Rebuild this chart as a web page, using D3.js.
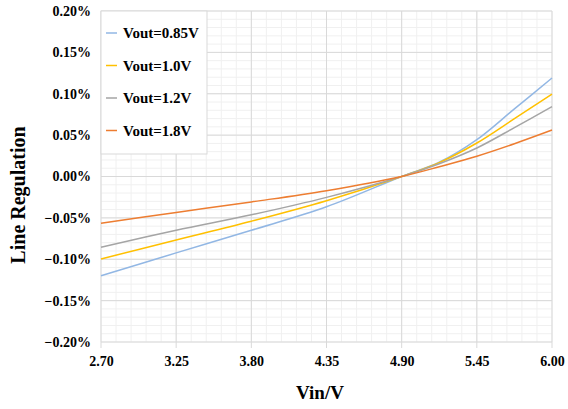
<!DOCTYPE html>
<html>
<head>
<meta charset="utf-8">
<script src="https://cdn.jsdelivr.net/npm/d3@7"></script>
<style>
  body { margin: 0; background: #fff; }
  text { font-family: "Liberation Serif", "Times New Roman", serif; font-weight: bold; fill: #000; }
</style>
</head>
<body>
<script>
//#### DATA ####
// Vin in volts, line regulation in percent
var vin = [2.70, 3.25, 3.80, 4.35, 4.90, 5.175, 5.45, 5.725, 6.00];
var reg085 = [-0.120, -0.0923, -0.065, -0.0366, 0, 0.0172, 0.0445, 0.0817, 0.119];
var reg10  = [-0.0996, -0.0768, -0.0541, -0.0293, 0, 0.0168, 0.0405, 0.0699, 0.0996];
var reg12  = [-0.0854, -0.065, -0.0463, -0.0252, 0, 0.0155, 0.0345, 0.0591, 0.0845];
var reg18  = [-0.0565, -0.0435, -0.0307, -0.0171, 0, 0.0118, 0.0245, 0.0396, 0.0561];

var seriesNames = ["Vout=0.85V", "Vout=1.0V", "Vout=1.2V", "Vout=1.8V"];
var seriesColors = ["#92b7e4", "#ffc000", "#a5a5a5", "#ed7d31"];
var seriesValues = [reg085, reg10, reg12, reg18];

var xTicks = [2.70, 3.25, 3.80, 4.35, 4.90, 5.45, 6.00];
var yTicks = [-0.20, -0.15, -0.10, -0.05, 0.00, 0.05, 0.10, 0.15, 0.20];

// #### layout ####
var margin = {top: 11, right: 16, bottom: 67, left: 101};
var width_outer = 568;
var height_outer = 409;
var width = width_outer - margin.left - margin.right;
var height = height_outer - margin.top - margin.bottom;

var svg = d3.select("body").append("svg")
  .attr("width", width_outer)
  .attr("height", height_outer);

var g = svg.append("g")
  .attr("transform", "translate(" + margin.left + "," + margin.top + ")");

var x = d3.scaleLinear().domain([2.70, 6.00]).range([0, width]);
var y = d3.scaleLinear().domain([-0.20, 0.20]).range([height, 0]);

// minor grid
var xMinor = d3.range(0, 31).map(function(i) { return 2.70 + i * 0.11; });
var yMinor = d3.range(0, 41).map(function(i) { return -0.20 + i * 0.01; });

g.selectAll(".xminor").data(xMinor).enter().append("line")
  .attr("x1", function(d) { return x(d); }).attr("x2", function(d) { return x(d); })
  .attr("y1", 0).attr("y2", height)
  .style("stroke", "#f0f0f0");

g.selectAll(".yminor").data(yMinor).enter().append("line")
  .attr("x1", 0).attr("x2", width)
  .attr("y1", function(d) { return y(d); }).attr("y2", function(d) { return y(d); })
  .style("stroke", "#f0f0f0");

// major grid
g.selectAll(".xmajor").data(xTicks).enter().append("line")
  .attr("x1", function(d) { return x(d); }).attr("x2", function(d) { return x(d); })
  .attr("y1", 0).attr("y2", height + 6)
  .style("stroke", "#d9d9d9");

g.selectAll(".ymajor").data(yTicks).enter().append("line")
  .attr("x1", 0).attr("x2", width)
  .attr("y1", function(d) { return y(d); }).attr("y2", function(d) { return y(d); })
  .style("stroke", "#d9d9d9");

// axes (labels only, lines come from the grid)
var xAxis = d3.axisBottom(x).tickValues(xTicks).tickSize(0).tickPadding(14)
  .tickFormat(d3.format(".2f"));
var yAxis = d3.axisLeft(y).tickValues(yTicks).tickSize(0).tickPadding(10)
  .tickFormat(function(d) { return d3.format(".2f")(d) + "%"; });

var gx = g.append("g")
  .attr("transform", "translate(0," + height + ")")
  .call(xAxis);
gx.select(".domain").remove();
gx.selectAll("text").style("font-size", "14px").style("font-family", null);

var gy = g.append("g").call(yAxis);
gy.select(".domain").remove();
gy.selectAll("text").style("font-size", "14px").style("font-family", null);

// lines
var line = d3.line()
  .x(function(d) { return x(d.x); })
  .y(function(d) { return y(d.y); })
  .curve(d3.curveCatmullRom.alpha(0.5));

seriesValues.forEach(function(vals, i) {
  var pts = vin.map(function(v, j) { return {x: v, y: vals[j]}; });
  g.append("path")
    .datum(pts)
    .attr("d", line)
    .style("fill", "none")
    .style("stroke", seriesColors[i])
    .style("stroke-width", 1.5);
});

// legend
var legend = g.append("g");
legend.append("rect")
  .attr("x", 0).attr("y", 0)
  .attr("width", 106).attr("height", 143)
  .style("fill", "#fff")
  .style("stroke", "#d9d9d9");

seriesNames.forEach(function(name, i) {
  var ly = 22 + i * 32.5;
  legend.append("line")
    .attr("x1", 5).attr("x2", 16)
    .attr("y1", ly).attr("y2", ly)
    .style("stroke", seriesColors[i])
    .style("stroke-width", 1.5);
  legend.append("text")
    .attr("x", 22).attr("y", ly)
    .attr("dy", "0.35em")
    .style("font-size", "15px")
    .text(name);
});

// titles
svg.append("text")
  .attr("x", 320).attr("y", 399)
  .attr("text-anchor", "middle")
  .style("font-size", "19px")
  .text("Vin/V");

svg.append("text")
  .attr("transform", "translate(25,195) rotate(-90)")
  .attr("text-anchor", "middle")
  .style("font-size", "20px")
  .text("Line Regulation");
</script>
</body>
</html>
